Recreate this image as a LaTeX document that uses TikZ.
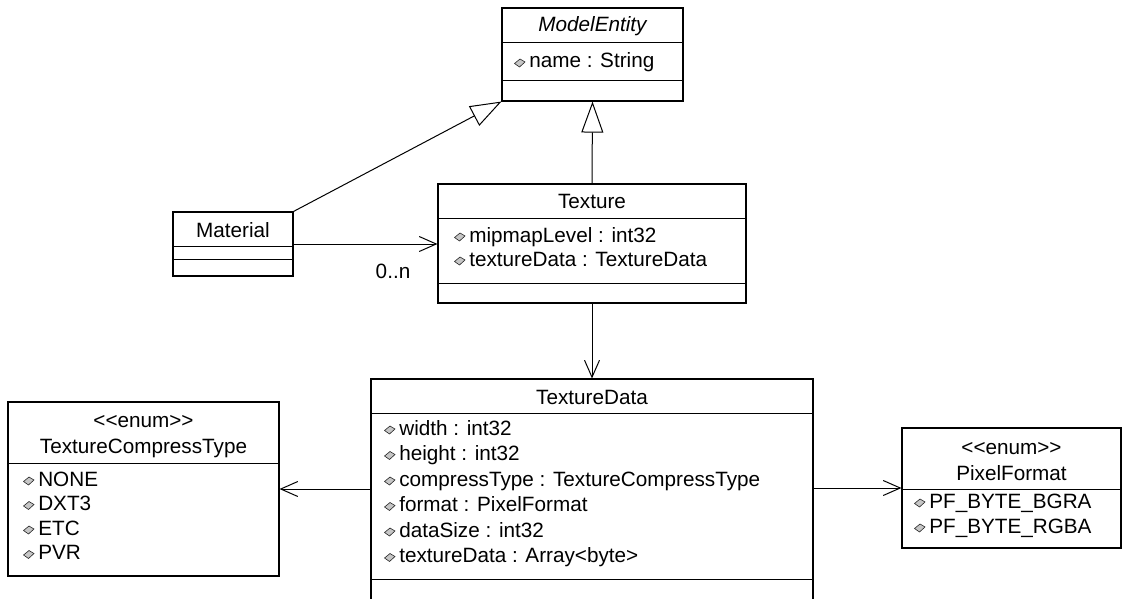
\documentclass[tikz,border=0pt]{standalone}
\usepackage{fontspec}
\setmainfont{Liberation Sans}
\usetikzlibrary{arrows.meta}
\newcommand{\ico}{\tikz[baseline=0pt,x=1pt,y=1pt]\draw[fill=gray!45,draw=gray!30!black,line width=0.6pt] (0,4.5)--(5.5,9)--(10.5,6)--(5,1)--cycle;\hspace{4pt}}
\newcommand{\stereo}[1]{<\kern0pt<#1>\kern0pt>}
\begin{document}
\begin{tikzpicture}[x=1pt,y=-1pt,line width=1pt,
  box/.style={draw,line width=1.1pt,inner sep=0pt,fill=white},
  txt/.style={inner sep=0pt,font=\fontsize{20.7}{25}\selectfont},
  attr/.style={txt,anchor=base west},
  ttl/.style={txt,anchor=base},
  assoc/.style={-{Straight Barb[length=17pt,width=15pt]}},
  gen/.style={-{Triangle[open,length=31pt,width=22pt,fill=white]}}]
\useasboundingbox (0,0) rectangle (1126,599);
\clip (0,0) rectangle (1126,599);

% ModelEntity
\node[box,minimum width=181pt,minimum height=93pt] (me) at (592.5,54.5) {};
\draw (me.west |- 0,43) -- (me.east |- 0,43);
\draw (me.west |- 0,81) -- (me.east |- 0,81);
\node[ttl,font=\fontsize{20.7}{25}\selectfont\itshape] (meT) at (592.5,32) {ModelEntity};
\node[attr] (meA1) at (514,68) {\ico name : String};

% Texture
\node[box,minimum width=308pt,minimum height=119pt] (tex) at (592,243.5) {};
\draw (tex.west |- 0,218) -- (tex.east |- 0,218);
\draw (tex.west |- 0,283) -- (tex.east |- 0,283);
\node[ttl] (texT) at (592,208) {Texture};
\node[attr] (texA1) at (454,242) {\ico mipmapLevel : int32};
\node[attr] (texA2) at (454,266) {\ico textureData : TextureData};

% Material
\node[box,minimum width=120pt,minimum height=64pt] (mat) at (233,244) {};
\draw (mat.west |- 0,246) -- (mat.east |- 0,246);
\draw (mat.west |- 0,259) -- (mat.east |- 0,259);
\node[ttl] (matT) at (233,237) {Material};

% TextureData
\node[box,minimum width=442pt,minimum height=261pt] (td) at (592,509.5) {};
\draw (td.west |- 0,413) -- (td.east |- 0,413);
\draw (td.west |- 0,579) -- (td.east |- 0,579);
\node[ttl] (tdT) at (592,404) {TextureData};
\node[attr] (tdA1) at (384,435) {\ico width : int32};
\node[attr] (tdA2) at (384,460.5) {\ico height : int32};
\node[attr] (tdA3) at (384,486) {\ico compressType : TextureCompressType};
\node[attr] (tdA4) at (384,511.5) {\ico format : PixelFormat};
\node[attr] (tdA5) at (384,537) {\ico dataSize : int32};
\node[attr] (tdA6) at (384,562.5) {\ico textureData : Array<byte>};

% TextureCompressType
\node[box,minimum width=271pt,minimum height=174pt] (tct) at (143.5,489) {};
\draw (tct.west |- 0,463) -- (tct.east |- 0,463);
\node[ttl] (tctS) at (143.5,427) {\stereo{enum}};
\node[ttl] (tctT) at (143.5,453) {TextureCompressType};
\node[attr] (tctA1) at (23,486) {\ico NONE};
\node[attr] (tctA2) at (23,510.5) {\ico DXT3};
\node[attr] (tctA3) at (23,535) {\ico ETC};
\node[attr] (tctA4) at (23,559.5) {\ico PVR};

% PixelFormat
\node[box,minimum width=219pt,minimum height=120pt] (pf) at (1011.5,488) {};
\draw (pf.west |- 0,489) -- (pf.east |- 0,489);
\node[ttl] (pfS) at (1011.5,454) {\stereo{enum}};
\node[ttl] (pfT) at (1011.5,480) {PixelFormat};
\node[attr] (pfA1) at (914,508) {\ico PF\_BYTE\_BGRA};
\node[attr] (pfA2) at (914,533) {\ico PF\_BYTE\_RGBA};

% connectors
\draw[gen] (tex.north) -- (me.south);
\draw[gen] (mat.north east) -- (me.south west);
\draw[assoc] (mat.east) -- (mat.east -| tex.west);
\node[txt] (mult) at (393,271) {0..n};
\draw[assoc] (tex.south) -- (td.north);
\draw[assoc] (tct.east -| td.west) -- (tct.east);
\draw[assoc] (pf.west -| td.east) -- (pf.west);
\end{tikzpicture}
\end{document}
